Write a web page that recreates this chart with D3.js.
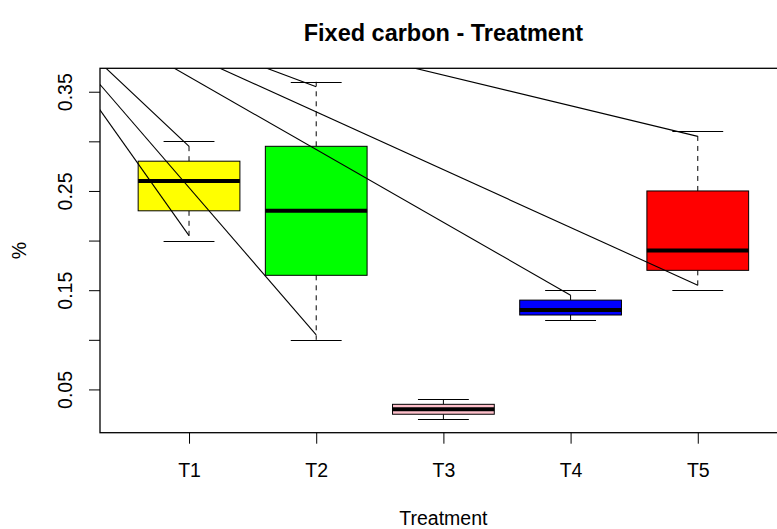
<!DOCTYPE html>
<html>
<head>
<meta charset="utf-8">
<script src="https://cdn.jsdelivr.net/npm/d3@7"></script>
<style>
  html, body { margin: 0; padding: 0; background: #fff; }
  svg { display: block; font-family: "Liberation Sans", Arial, sans-serif; }
</style>
</head>
<body>
<svg id="chart" width="777" height="529"></svg>
<script>
// Treatment groups and their box statistics (fixed carbon, %)
const treatments = ["T1", "T2", "T3", "T4", "T5"];
const whiskerLow  = [0.20, 0.10, 0.020, 0.120, 0.15];
const boxLow      = [0.23, 0.165, 0.025, 0.125, 0.17];
const medians     = [0.26, 0.23, 0.030, 0.130, 0.19];
const boxHigh     = [0.28, 0.295, 0.035, 0.140, 0.25];
const whiskerHigh = [0.30, 0.36, 0.040, 0.150, 0.31];
const boxColors   = ["#FFFF00", "#00FF00", "#FFC0CB", "#0000FF", "#FF0000"];

// Pointer lines: target group index (1-based) and value they reach
const pointerGroup = [1, 1, 2, 2, 4, 5, 5];
const pointerValue = [0.295, 0.205, 0.355, 0.105, 0.145, 0.305, 0.155];
// shared start of the pointer lines (group units, value units)
const pointerOrigin = { x: -0.49, y: 0.4745 };

const yTicks = [0.05, 0.10, 0.15, 0.20, 0.25, 0.30, 0.35];
const yTickLabels = ["0.05", "", "0.15", "", "0.25", "", "0.35"];

const svg = d3.select("#chart");

const plot = { left: 100, right: 786.8, top: 68.3, bottom: 432.7 };

const x = d3.scaleLinear().domain([0.3, 5.7]).range([plot.left, plot.right]);
const y = d3.scaleLinear().domain([0.0064, 0.3736]).range([plot.bottom, plot.top]);

const boxHalf = 0.4, capHalf = 0.2;
const baseFont = 19.5;

svg.append("defs").append("clipPath").attr("id", "plotClip")
  .append("rect")
  .attr("x", plot.left).attr("y", plot.top)
  .attr("width", plot.right - plot.left).attr("height", plot.bottom - plot.top);

const groups = treatments.map((t, i) => ({
  name: t, pos: i + 1,
  wl: whiskerLow[i], q1: boxLow[i], med: medians[i], q3: boxHigh[i], wh: whiskerHigh[i],
  color: boxColors[i]
}));

const g = svg.append("g");

// dashed whiskers
g.selectAll(".whisk-up").data(groups).join("line")
  .attr("x1", d => x(d.pos)).attr("x2", d => x(d.pos))
  .attr("y1", d => y(d.q3)).attr("y2", d => y(d.wh))
  .attr("stroke", "#000").attr("stroke-dasharray", "5,5");
g.selectAll(".whisk-dn").data(groups).join("line")
  .attr("x1", d => x(d.pos)).attr("x2", d => x(d.pos))
  .attr("y1", d => y(d.q1)).attr("y2", d => y(d.wl))
  .attr("stroke", "#000").attr("stroke-dasharray", "5,5");

// whisker caps
["wh", "wl"].forEach(k => {
  g.selectAll(".cap-" + k).data(groups).join("line")
    .attr("x1", d => x(d.pos - capHalf)).attr("x2", d => x(d.pos + capHalf))
    .attr("y1", d => Math.round(y(d[k])) + 0.5).attr("y2", d => Math.round(y(d[k])) + 0.5)
    .attr("stroke", "#000").attr("stroke-width", 1);
});

// boxes
g.selectAll(".box").data(groups).join("rect")
  .attr("x", d => x(d.pos - boxHalf))
  .attr("y", d => y(d.q3))
  .attr("width", d => x(d.pos + boxHalf) - x(d.pos - boxHalf))
  .attr("height", d => y(d.q1) - y(d.q3))
  .attr("fill", d => d.color)
  .attr("stroke", "#000").attr("stroke-width", 1);

// medians
g.selectAll(".median").data(groups).join("line")
  .attr("x1", d => x(d.pos - boxHalf)).attr("x2", d => x(d.pos + boxHalf))
  .attr("y1", d => y(d.med)).attr("y2", d => y(d.med))
  .attr("stroke", "#000").attr("stroke-width", 4);

// pointer lines, clipped to the plotting region
svg.append("g").attr("clip-path", "url(#plotClip)")
  .selectAll("line").data(pointerGroup.map((p, i) => ({ p, v: pointerValue[i] })))
  .join("line")
  .attr("x1", x(pointerOrigin.x)).attr("y1", y(pointerOrigin.y))
  .attr("x2", d => x(d.p)).attr("y2", d => y(d.v))
  .attr("stroke", "#000").attr("stroke-width", 1.1);

// frame
svg.append("rect")
  .attr("x", plot.left).attr("y", plot.top)
  .attr("width", plot.right - plot.left).attr("height", plot.bottom - plot.top)
  .attr("fill", "none").attr("stroke", "#000").attr("stroke-width", 1.3);

// y axis
const yAxis = d3.axisLeft(y).tickValues(yTicks)
  .tickFormat((d, i) => yTickLabels[i]).tickSize(11).tickPadding(0);
const ya = svg.append("g").attr("transform", `translate(${plot.left},0)`).call(yAxis);
ya.select(".domain").remove();
ya.selectAll(".tick line").attr("stroke", "#000");
ya.selectAll(".tick text")
  .attr("transform", "rotate(-90)")
  .attr("x", 0).attr("y", -28)
  .attr("dy", 0)
  .attr("text-anchor", "middle")
  .attr("font-size", baseFont).attr("fill", "#000");

// x axis
const xAxis = d3.axisBottom(x).tickValues(d3.range(1, treatments.length + 1))
  .tickFormat(d => treatments[d - 1]).tickSize(11).tickPadding(0);
const xa = svg.append("g").attr("transform", `translate(0,${plot.bottom})`).call(xAxis);
xa.select(".domain").remove();
xa.selectAll(".tick line").attr("stroke", "#000");
xa.selectAll(".tick text")
  .attr("y", 44).attr("dy", 0)
  .attr("font-size", baseFont).attr("fill", "#000");

// titles
const midX = (plot.left + plot.right) / 2;
svg.append("text").attr("x", midX).attr("y", 41)
  .attr("text-anchor", "middle").attr("font-weight", "bold").attr("font-size", 23.5)
  .text("Fixed carbon - Treatment");
svg.append("text").attr("x", midX).attr("y", 525)
  .attr("text-anchor", "middle").attr("font-size", baseFont)
  .text("Treatment");
svg.append("text")
  .attr("transform", `translate(26,${(plot.top + plot.bottom) / 2}) rotate(-90)`)
  .attr("text-anchor", "middle").attr("font-size", baseFont)
  .text("%");
</script>
</body>
</html>
